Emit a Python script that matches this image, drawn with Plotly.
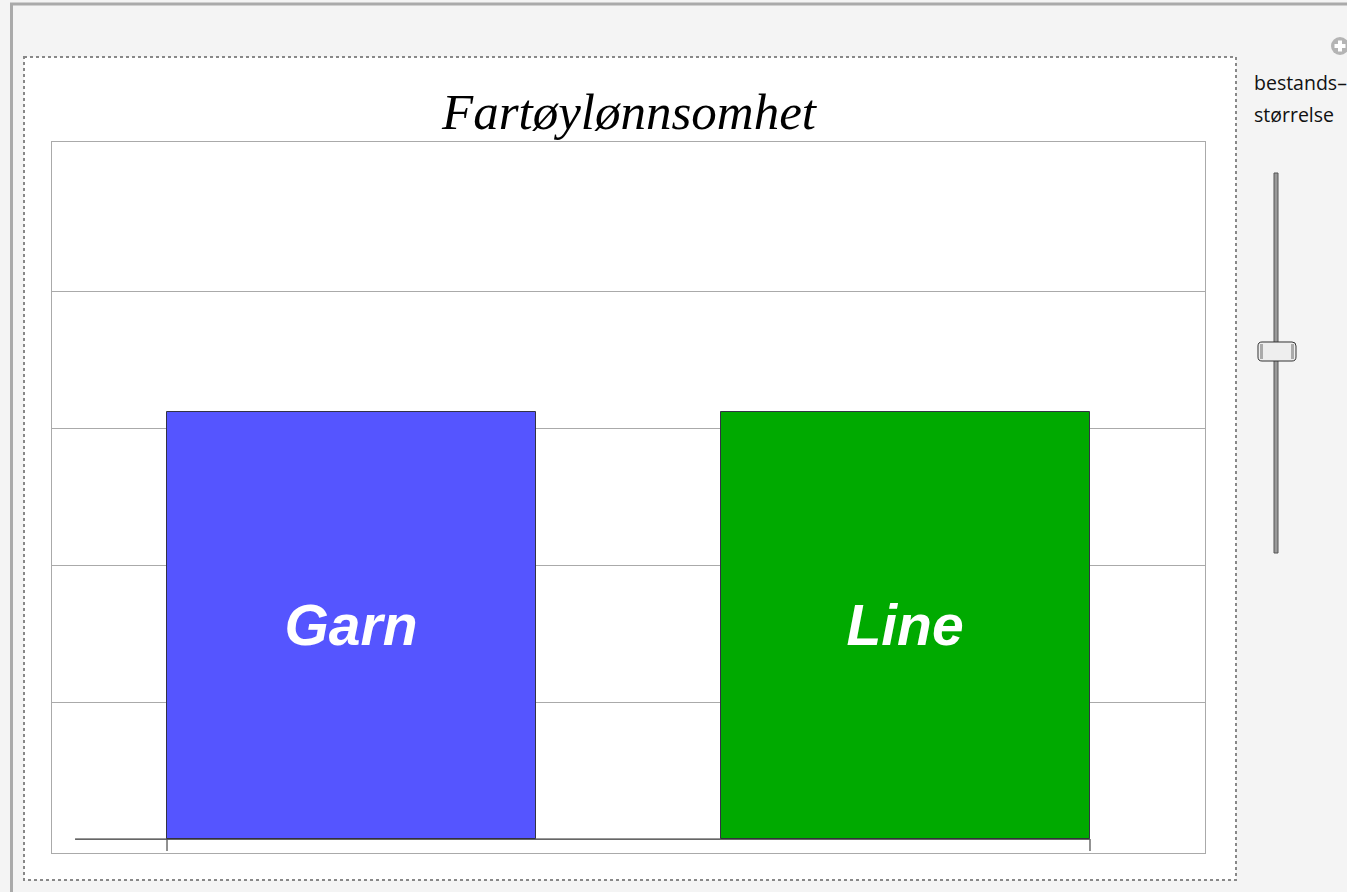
import plotly.graph_objects as go

# ---- data ----
categories = ["Garn", "Line"]
values = [3.12, 3.12]
bar_colors = ["#5555ff", "#00aa00"]
title_text = "Fartøylønnsomhet"
slider_label = ["bestands–", "størrelse"]

W, H = 1347, 892

def px(x):
    return x / W

def py(y):
    return 1 - y / H

positions = list(range(len(categories)))
bar_width = 0.666

fig = go.Figure()
fig.add_trace(go.Bar(
    x=positions, y=values, width=bar_width,
    marker=dict(color=bar_colors, line=dict(color="#333344", width=1)),
    text=["<b><i>%s</i></b>" % c for c in categories],
    textposition="inside", insidetextanchor="middle",
    textangle=0, constraintext="none",
    textfont=dict(family="Liberation Sans, Arial, sans-serif", size=57, color="white"),
    hoverinfo="skip", showlegend=False,
))

left_edge = positions[0] - bar_width / 2
right_edge = positions[-1] + bar_width / 2

shapes = []
# outer frame lines
shapes.append(dict(type="line", xref="paper", yref="paper", x0=px(11.5), x1=px(11.5), y0=py(3), y1=py(892),
                   line=dict(color="#aaaaaa", width=3)))
shapes.append(dict(type="line", xref="paper", yref="paper", x0=px(10), x1=px(1347), y0=py(4), y1=py(4),
                   line=dict(color="#aaaaaa", width=3)))
# white panel with dotted border
shapes.append(dict(type="rect", xref="paper", yref="paper", x0=px(24), x1=px(1236), y0=py(57), y1=py(880),
                   fillcolor="white", line=dict(color="#888888", width=2, dash="dot"), layer="below"))
# baseline
shapes.append(dict(type="line", xref="x", yref="y", x0=-0.499, x1=right_edge, y0=0, y1=0,
                   line=dict(color="#333333", width=1.3)))
# small ticks at bar outer edges
for xe in (left_edge, right_edge):
    shapes.append(dict(type="line", xref="x", yref="y", x0=xe, x1=xe, y0=0, y1=-0.088,
                       line=dict(color="#555555", width=1.3)))
# slider track
shapes.append(dict(type="rect", xref="paper", yref="paper", x0=px(1274), x1=px(1278), y0=py(173), y1=py(553),
                   fillcolor="#999999", line=dict(color="#555555", width=1)))
# slider handle
shapes.append(dict(type="path", xref="paper", yref="paper",
                   path="M %f,%f L %f,%f Q %f,%f %f,%f L %f,%f Q %f,%f %f,%f L %f,%f Q %f,%f %f,%f L %f,%f Q %f,%f %f,%f Z" % (
                       px(1262), py(342), px(1292), py(342), px(1296), py(342), px(1296), py(346),
                       px(1296), py(357), px(1296), py(361), px(1292), py(361),
                       px(1262), py(361), px(1258), py(361), px(1258), py(357),
                       px(1258), py(346), px(1258), py(342), px(1262), py(342)),
                   fillcolor="#eeeeee", line=dict(color="#333333", width=1)))
shapes.append(dict(type="rect", xref="paper", yref="paper", x0=px(1260), x1=px(1263), y0=py(344), y1=py(359),
                   fillcolor="#aaaaaa", line=dict(width=0)))
shapes.append(dict(type="rect", xref="paper", yref="paper", x0=px(1291), x1=px(1294), y0=py(344), y1=py(359),
                   fillcolor="#aaaaaa", line=dict(width=0)))
# plus icon (partly cut at right edge)
shapes.append(dict(type="circle", xref="paper", yref="paper", x0=px(1331), x1=px(1349), y0=py(37), y1=py(55),
                   fillcolor="#b4b4b4", line=dict(width=0)))
shapes.append(dict(type="line", xref="paper", yref="paper", x0=px(1334.5), x1=px(1345.5), y0=py(46), y1=py(46),
                   line=dict(color="white", width=4)))
shapes.append(dict(type="line", xref="paper", yref="paper", x0=px(1340), x1=px(1340), y0=py(40.5), y1=py(51.5),
                   line=dict(color="white", width=4)))

annotations = [
    dict(text="<i>%s</i>" % title_text, xref="paper", yref="paper", x=px(629), y=py(112),
         xanchor="center", yanchor="middle", showarrow=False,
         font=dict(family="Liberation Serif, Times New Roman, serif", size=51, color="black")),
    dict(text=slider_label[0], xref="paper", yref="paper", x=px(1252), y=py(82),
         xanchor="left", yanchor="middle", showarrow=False,
         font=dict(family="Open Sans, Noto Sans, sans-serif", size=19.5, color="#111111")),
    dict(text=slider_label[1], xref="paper", yref="paper", x=px(1252), y=py(114),
         xanchor="left", yanchor="middle", showarrow=False,
         font=dict(family="Open Sans, Noto Sans, sans-serif", size=19.5, color="#111111")),
]

fig.update_layout(
    width=W, height=H, autosize=False,
    margin=dict(l=0, r=0, t=0, b=0),
    paper_bgcolor="#f4f4f4", plot_bgcolor="white",
    shapes=shapes, annotations=annotations,
    bargap=0,
    xaxis=dict(domain=[px(52), px(1205)], range=[-0.5406, 1.5406], showgrid=False, zeroline=False,
               showticklabels=False, ticks="", showline=True, mirror=True, linecolor="#aaaaaa", linewidth=1,
               fixedrange=True),
    yaxis=dict(domain=[py(853), py(142)], range=[-0.102, 5.088], tickvals=[1, 2, 3, 4],
               showgrid=True, gridcolor="#aaaaaa", gridwidth=1, zeroline=False, showticklabels=False,
               ticks="", showline=True, mirror=True, linecolor="#aaaaaa", linewidth=1, fixedrange=True),
)

fig.write_html("out.html", config={"displayModeBar": False},
               post_script="document.body.style.margin='0';document.body.style.overflow='hidden';")
